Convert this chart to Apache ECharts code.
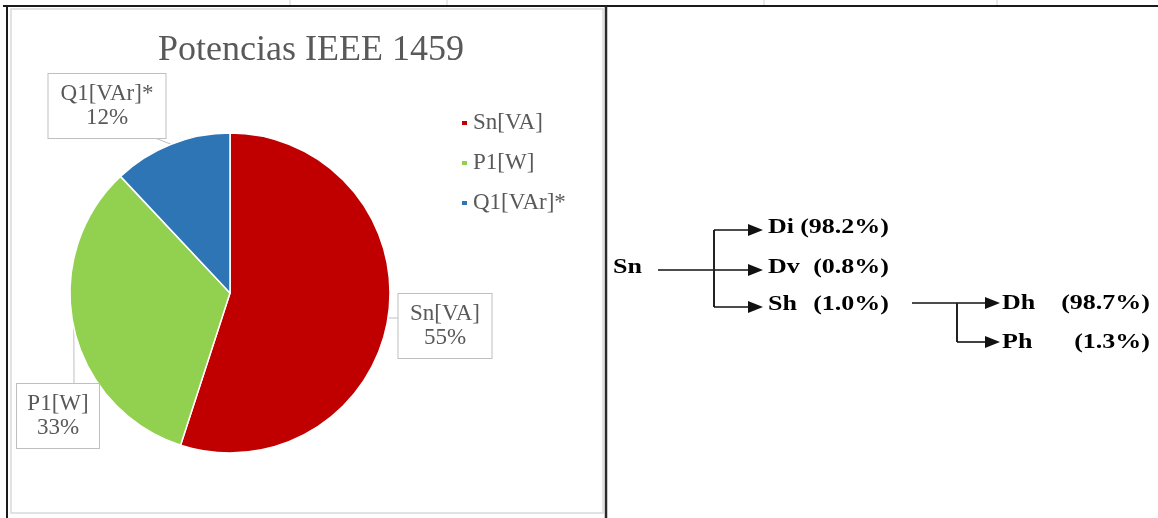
<!DOCTYPE html>
<html>
<head>
<meta charset="utf-8">
<script src="https://cdn.jsdelivr.net/npm/echarts@6/dist/echarts.min.js"></script>
<style>
  html, body { margin: 0; padding: 0; background: #fff; }
  #chart { width: 1158px; height: 518px; }
</style>
</head>
<body>
<div id="chart"></div>
<script>
// pie data
const categorias = ['Sn[VA]', 'P1[W]', 'Q1[VAr]*'];
const porcentajes = [55, 33, 12];

// decomposition diagram
const origen = 'Sn';
const ramas = ['Di', 'Dv', 'Sh'];
const ramasPct = ['(98.2%)', '(0.8%)', '(1.0%)'];
const subRamas = ['Dh', 'Ph'];
const subRamasPct = ['(98.7%)', '(1.3%)'];

const colores = ['#C00000', '#92D050', '#2E75B6'];
const gris = '#595959';
const serif = '"Liberation Serif", "DejaVu Serif", serif';

// callout boxes: center x, center y, text width, point where the pointer leaves the box
const cajas = {
  'Sn[VA]': [445, 326, 75, [399, 318]],
  'P1[W]': [58, 416, 64, [74, 384]],
  'Q1[VAr]*': [107, 106, 99, [155, 138]]
};

const chart = echarts.init(document.getElementById('chart'));

function flecha(x1, y1, x2, y2) {
  return [
    {
      type: 'line',
      shape: { x1: x1, y1: y1, x2: x2 - 12, y2: y2 },
      style: { stroke: '#111', lineWidth: 1.6 }
    },
    {
      type: 'polygon',
      shape: { points: [[x2 - 15, y2 - 6], [x2, y2], [x2 - 15, y2 + 6]] },
      style: { fill: '#111' }
    }
  ];
}

function texto(str, x, y, align) {
  return {
    type: 'text',
    x: x,
    y: y,
    scaleX: 1.3,
    style: {
      text: str,
      font: 'bold 20px ' + serif,
      fill: '#000',
      align: align || 'left',
      verticalAlign: 'middle'
    }
  };
}

const graficos = [];
// sheet grid marks + frame
[290, 447, 764, 997].forEach(function (x) {
  graficos.push({ type: 'line', shape: { x1: x, y1: 0, x2: x, y2: 5 }, style: { stroke: '#d4d4d4', lineWidth: 1 } });
});
graficos.push({ type: 'rect', shape: { x: 11, y: 9, width: 592, height: 504 }, style: { fill: 'none', stroke: '#d9d9d9', lineWidth: 1.5 } });
graficos.push({ type: 'line', shape: { x1: 3, y1: 6, x2: 1158, y2: 6 }, style: { stroke: '#1a1a1a', lineWidth: 2 } });
graficos.push({ type: 'line', shape: { x1: 7, y1: 6, x2: 7, y2: 518 }, style: { stroke: '#1a1a1a', lineWidth: 2 } });
graficos.push({ type: 'line', shape: { x1: 606, y1: 6, x2: 606, y2: 518 }, style: { stroke: '#2a2a2a', lineWidth: 2.5 } });

// first level
const filas1 = [230, 270, 307];
graficos.push(texto(origen, 613, 268));
graficos.push.apply(graficos, flecha(658, filas1[1], 763, filas1[1]));
graficos.push({ type: 'line', shape: { x1: 714, y1: filas1[0], x2: 714, y2: filas1[2] }, style: { stroke: '#222', lineWidth: 2 } });
graficos.push.apply(graficos, flecha(714, filas1[0], 763, filas1[0]));
graficos.push.apply(graficos, flecha(714, filas1[2], 763, filas1[2]));
ramas.forEach(function (r, i) {
  graficos.push(texto(r, 768, filas1[i] - 2));
  graficos.push(texto(ramasPct[i], 889, filas1[i] - 2, 'right'));
});

// second level
const filas2 = [303, 342];
graficos.push.apply(graficos, flecha(912, filas2[0], 1000, filas2[0]));
graficos.push({ type: 'line', shape: { x1: 957, y1: filas2[0], x2: 957, y2: filas2[1] }, style: { stroke: '#222', lineWidth: 2 } });
graficos.push.apply(graficos, flecha(957, filas2[1], 1000, filas2[1]));
subRamas.forEach(function (r, i) {
  graficos.push(texto(r, 1002, filas2[i] + 1));
  graficos.push(texto(subRamasPct[i], 1150, filas2[i] + 1, 'right'));
});

chart.setOption({
  animation: false,
  color: colores,
  title: {
    text: 'Potencias IEEE 1459',
    left: 306,
    top: 28,
    textAlign: 'center',
    textStyle: { fontFamily: serif, fontSize: 36, fontWeight: 'normal', color: gris }
  },
  legend: {
    orient: 'vertical',
    left: 455,
    top: 106,
    icon: 'rect',
    itemWidth: 7,
    itemHeight: 6,
    itemGap: 16,
    data: categorias,
    textStyle: { fontFamily: serif, fontSize: 23, lineHeight: 24, color: gris }
  },
  graphic: graficos,
  series: [
    {
      type: 'pie',
      center: [230, 293],
      radius: 160,
      startAngle: 90,
      clockwise: true,
      percentPrecision: 0,
      itemStyle: { borderColor: '#fff', borderWidth: 1.5 },
      label: {
        show: true,
        position: 'outside',
        formatter: '{b}\n{d}%',
        fontFamily: serif,
        fontSize: 23,
        lineHeight: 24,
        color: gris,
        align: 'center',
        overflow: 'none',
        edgeDistance: 0,
        backgroundColor: '#fff',
        borderColor: '#BFBFBF',
        borderWidth: 1,
        padding: [8, 9]
      },
      labelLine: { show: true, length: 10, length2: 5, lineStyle: { color: '#BFBFBF', width: 1 } },
      labelLayout: function (p) {
        const c = cajas[categorias[p.dataIndex]];
        const punta = p.labelLinePoints ? p.labelLinePoints[0] : c[3];
        return {
          x: c[0],
          y: c[1],
          width: c[2],
          align: 'center',
          verticalAlign: 'middle',
          labelLinePoints: [punta, c[3], c[3]]
        };
      },
      data: categorias.map(function (n, i) {
        return { name: n, value: porcentajes[i] };
      })
    }
  ]
});
</script>
</body>
</html>
